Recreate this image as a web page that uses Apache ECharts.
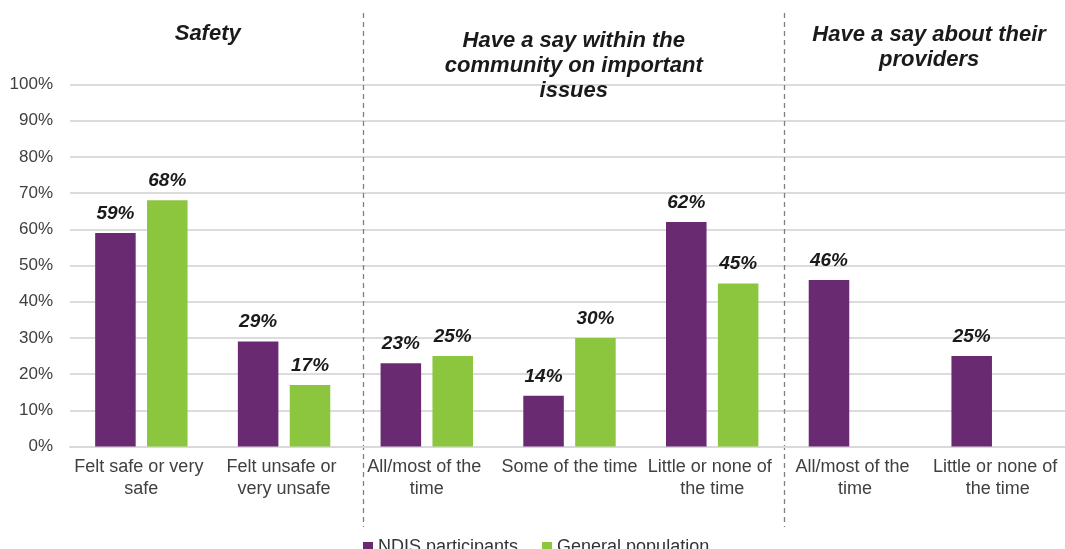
<!DOCTYPE html>
<html>
<head>
<meta charset="utf-8">
<style>
  html, body { margin: 0; padding: 0; background: #ffffff; }
  #chart { width: 1065px; height: 549px; }
</style>
<script src="https://cdn.jsdelivr.net/npm/echarts@6/dist/echarts.min.js"></script>
</head>
<body>
<div id="chart"></div>
<script>
// Categories along the x axis
const categories = [
  'Felt safe or very safe',
  'Felt unsafe or very unsafe',
  'All/most of the time',
  'Some of the time',
  'Little or none of the time',
  'All/most of the time',
  'Little or none of the time'
];

// Series values (percent)
const ndisParticipants = [59, 29, 23, 14, 62, 46, 25];
const generalPopulation = [68, 17, 25, 30, 45, null, null];

const seriesNames = ['NDIS participants', 'General population'];

// Y axis ticks
const yMin = 0;
const yMax = 100;
const yStep = 10;

// Section headings and the category position (fractional index) each is centred on
const sectionTitles = [
  { text: 'Safety', at: 0.965, top: 21 },
  { text: 'Have a say within the\ncommunity on important\nissues', at: 3.53, top: 28 },
  { text: 'Have a say about their\nproviders', at: 6.02, top: 22 }
];
// Dashed separators between sections (fractional category boundary)
const separators = [2.05, 5.0];

const PURPLE = '#6a2a72';
const GREEN = '#8cc63f';
const FONT = '"Liberation Sans", Arial, sans-serif';

const chart = echarts.init(document.getElementById('chart'), null, { renderer: 'canvas' });

const valueLabel = {
  show: true,
  position: 'top',
  distance: 10,
  formatter: '{c}%',
  fontFamily: FONT,
  fontSize: 19,
  fontWeight: 'bold',
  fontStyle: 'italic',
  color: '#1a1a1a'
};

chart.setOption({
  animation: false,
  backgroundColor: '#ffffff',
  grid: {
    left: 70, top: 84.5, width: 999, height: 362,
    containLabel: false,
    outerBoundsMode: 'none'
  },
  legend: {
    data: seriesNames,
    left: 358,
    top: 533,
    icon: 'rect',
    itemWidth: 10,
    itemHeight: 10,
    itemGap: 24,
    textStyle: { fontFamily: FONT, fontSize: 18, color: '#333333' }
  },
  xAxis: {
    type: 'category',
    data: categories,
    axisTick: { show: false },
    axisLine: { show: true, lineStyle: { color: '#d9d9d9', width: 2 } },
    axisLabel: {
      interval: 0,
      margin: 10,
      fontFamily: FONT,
      fontSize: 18,
      lineHeight: 22,
      color: '#404040',
      width: 140,
      overflow: 'break'
    }
  },
  yAxis: {
    type: 'value',
    min: yMin,
    max: yMax,
    interval: yStep,
    axisLine: { show: false },
    axisTick: { show: false },
    axisLabel: {
      formatter: '{value}%',
      margin: 17,
      fontFamily: FONT,
      fontSize: 17,
      color: '#404040'
    },
    splitLine: { lineStyle: { color: '#dcdcdc', width: 2 } }
  },
  series: [
    {
      name: seriesNames[0],
      type: 'bar',
      data: ndisParticipants,
      barWidth: '28.4%',
      barGap: '28%',
      itemStyle: { color: PURPLE },
      label: valueLabel
    },
    {
      name: seriesNames[1],
      type: 'bar',
      data: generalPopulation,
      barWidth: '28.4%',
      barGap: '28%',
      itemStyle: { color: GREEN },
      label: valueLabel
    }
  ]
});

// Convert a fractional category position to a pixel x using the category axis
function catToPx(pos) {
  const c0 = chart.convertToPixel({ xAxisIndex: 0 }, 0);
  const c1 = chart.convertToPixel({ xAxisIndex: 0 }, 1);
  const step = c1 - c0;
  return c0 - step / 2 + pos * step;
}

const graphics = [];
separators.forEach(function (p) {
  const x = Math.round(catToPx(p)) + 0.5;
  graphics.push({
    type: 'line',
    shape: { x1: x, y1: 13, x2: x, y2: 527 },
    style: { stroke: '#7f7f7f', lineWidth: 1.3, lineDash: [5, 4] },
    silent: true
  });
});
sectionTitles.forEach(function (t) {
  graphics.push({
    type: 'text',
    x: catToPx(t.at),
    y: t.top,
    style: {
      text: t.text,
      fontFamily: FONT,
      fontSize: 22,
      fontWeight: 'bold',
      fontStyle: 'italic',
      lineHeight: 25,
      fill: '#1a1a1a',
      align: 'center',
      verticalAlign: 'top'
    },
    silent: true
  });
});
chart.setOption({ graphic: graphics });
</script>
</body>
</html>
